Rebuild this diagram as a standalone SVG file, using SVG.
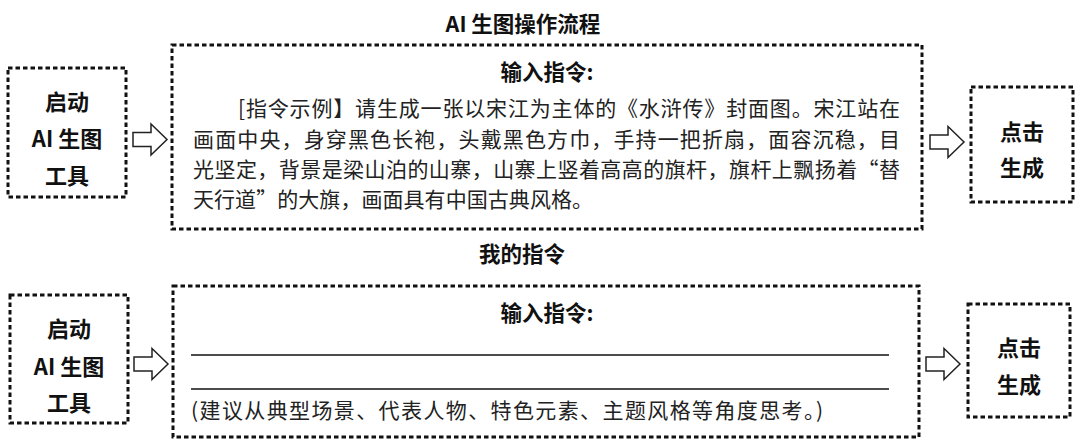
<svg xmlns="http://www.w3.org/2000/svg" width="1080" height="442" viewBox="0 0 1080 442">
<style>
.box{fill:none;stroke:#111;stroke-width:3;stroke-dasharray:4.5 3}
.h{font-family:"Noto Sans CJK SC","Liberation Sans",sans-serif;font-weight:700;font-size:21.5px;fill:#111;text-anchor:middle}
.n{font-family:"Noto Sans CJK SC","Liberation Sans",sans-serif;font-weight:700;font-size:22px;fill:#111;text-anchor:middle}
.b{font-family:"Noto Sans CJK SC","Liberation Serif",serif;font-weight:400;font-size:21px;fill:#222}
.arr{fill:#fff;stroke:#222;stroke-width:1.5;stroke-linejoin:miter}
.ul{stroke:#111;stroke-width:1.5}
</style>
<defs>
<path id="arrow" d="M0,-7 H18 V-15.5 L34,0 L18,15.5 V7 H0 Z"/>
</defs>
<rect width="1080" height="442" fill="#fff"/>
<text class="h" x="523" y="32">AI 生图操作流程</text>
<text class="h" x="522" y="262">我的指令</text>
<g id="start1">
<rect class="box" x="8" y="68" width="118" height="129"/>
<text class="n" x="67" y="110">启动</text>
<text class="n" x="67" y="147">AI 生图</text>
<text class="n" x="67" y="184">工具</text>
</g>
<g id="input1">
<rect class="box" x="172" y="45" width="750" height="184"/>
<text class="h" x="547" y="80">输入指令:</text>
<text class="b" x="238" y="116" textLength="662" lengthAdjust="spacing">[指令示例】请生成一张以宋江为主体的《水浒传》封面图。宋江站在</text>
<text class="b" x="193" y="147" textLength="707" lengthAdjust="spacing">画面中央，身穿黑色长袍，头戴黑色方巾，手持一把折扇，面容沉稳，目</text>
<text class="b" x="193" y="177" textLength="707" lengthAdjust="spacing">光坚定，背景是梁山泊的山寨，山寨上竖着高高的旗杆，旗杆上飘扬着“替</text>
<text class="b" x="193" y="207" textLength="400" lengthAdjust="spacing">天行道”的大旗，画面具有中国古典风格。</text>
</g>
<g id="generate1">
<rect class="box" x="971" y="87" width="102" height="115"/>
<text class="n" x="1022" y="140">点击</text>
<text class="n" x="1022" y="176">生成</text>
</g>
<g id="start2">
<rect class="box" x="10" y="295" width="118" height="128"/>
<text class="n" x="69" y="337">启动</text>
<text class="n" x="69" y="375">AI 生图</text>
<text class="n" x="69" y="411">工具</text>
</g>
<g id="input2">
<rect class="box" x="173" y="286" width="746" height="151"/>
<text class="h" x="547" y="321">输入指令:</text>
<line class="ul" x1="191" y1="355" x2="889" y2="355"/>
<line class="ul" x1="191" y1="389" x2="889" y2="389"/>
<text class="b" x="191" y="418" textLength="632" lengthAdjust="spacing">(建议从典型场景、代表人物、特色元素、主题风格等角度思考。)</text>
</g>
<g id="generate2">
<rect class="box" x="968" y="304" width="102" height="113"/>
<text class="n" x="1019" y="356">点击</text>
<text class="n" x="1019" y="393">生成</text>
</g>
<g id="connectors">
<use href="#arrow" class="arr" transform="translate(133,139.5)"/>
<use href="#arrow" class="arr" transform="translate(930,142)"/>
<use href="#arrow" class="arr" transform="translate(134,364)"/>
<use href="#arrow" class="arr" transform="translate(926,364)"/>
</g>
</svg>
